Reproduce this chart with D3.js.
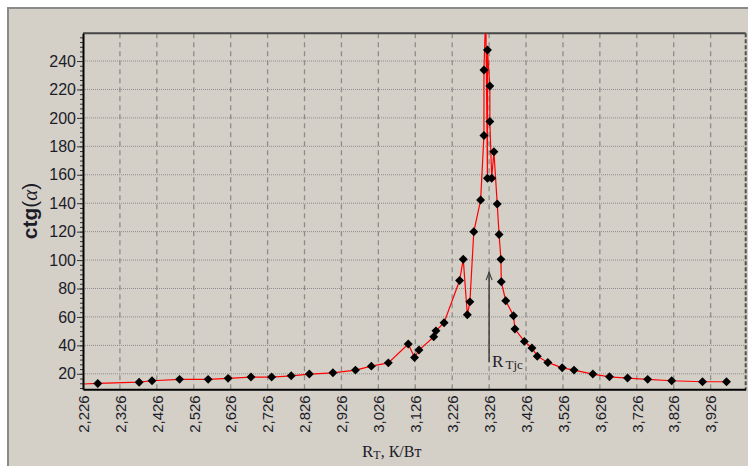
<!DOCTYPE html>
<html>
<head>
<meta charset="utf-8">
<script src="https://cdn.jsdelivr.net/npm/d3@7"></script>
<style>
body{margin:0;background:#fff;}
svg{display:block;}
</style>
</head>
<body>
<svg id="canvas"></svg>
<script>
// measured points, in drawing order (first and one peak point lie outside the plot and get clipped)
let rValues = [2.200, 2.266, 2.378, 2.413, 2.4875, 2.565, 2.619, 2.681, 2.737, 2.790, 2.839, 2.903, 2.964, 3.007, 3.053,
               3.107, 3.124, 3.136, 3.176, 3.182, 3.204, 3.246, 3.256, 3.267, 3.274, 3.2845, 3.303, 3.312, 3.312,
               3.317, 3.3215, 3.3215, 3.328, 3.328, 3.333, 3.339, 3.348, 3.353, 3.358, 3.359, 3.371, 3.392, 3.396,
               3.4215, 3.442, 3.4565, 3.485, 3.524, 3.556, 3.607, 3.652, 3.701, 3.7555, 3.8205, 3.904, 3.969]
let ctgValues = [12.6, 13.2, 14.1, 15.1, 16.1, 16.1, 16.8, 17.7, 17.7, 18.6, 19.8, 20.7, 22.6, 25.4, 27.7,
                 41.0, 31.5, 36.7, 46.0, 50.2, 55.9, 85.6, 100.6, 61.5, 70.6, 119.9, 142.2, 187.6, 233.7,
                 275, 157.5, 247.7, 222.4, 197.5, 157.5, 176.2, 139.4, 118.0, 100.5, 84.7, 71.4, 60.8, 51.5,
                 42.8, 38.2, 32.4, 28.0, 24.2, 22.6, 19.8, 17.9, 17.0, 16.1, 15.1, 14.4, 14.4]

let xTicks = [2.226, 2.326, 2.426, 2.526, 2.626, 2.726, 2.826, 2.926, 3.026,
              3.126, 3.226, 3.326, 3.426, 3.526, 3.626, 3.726, 3.826, 3.926]
let yTicks = [20, 40, 60, 80, 100, 120, 140, 160, 180, 200, 220, 240]

let xDomain = [2.226, 4.021]
let yDomain = [9.1, 259.5]

// R_Tjc arrow
let markX = 3.326
let markY = [28.2, 91.5]

let width = 748;
let height = 466;
let padLeft = 83, padTop = 33.3, padRight = 745.7, padBottom = 389.3;

let canvas = d3.select("#canvas")
canvas.attr("width", width)
canvas.attr("height", height)

let xScale = d3.scaleLinear().domain(xDomain).range([padLeft, padRight])
let yScale = d3.scaleLinear().domain(yDomain).range([padBottom, padTop])

let fmt = (d)=>d3.format(".3f")(d).replace(".", ",")

// panel
canvas.append("rect")
      .attr("x", 8).attr("y", 8)
      .attr("width", 760).attr("height", 480)
      .attr("fill", "#d4d0c8")
      .attr("stroke", "#8a8a8a")
      .attr("stroke-width", 2)

canvas.append("clipPath").attr("id", "clip")
      .append("rect")
      .attr("x", padLeft).attr("y", padTop)
      .attr("width", padRight - padLeft).attr("height", padBottom - padTop)

// grid
canvas.append("g")
      .selectAll("line")
      .data(yTicks)
      .enter()
      .append("line")
      .attr("x1", padLeft).attr("x2", padRight)
      .attr("y1", d=>yScale(d)).attr("y2", d=>yScale(d))
      .attr("stroke", "#8c8c8c")
      .attr("stroke-dasharray", "1,1")

canvas.append("g")
      .selectAll("line")
      .data(xTicks.slice(1))
      .enter()
      .append("line")
      .attr("x1", d=>xScale(d)).attr("x2", d=>xScale(d))
      .attr("y1", padTop).attr("y2", padBottom)
      .attr("stroke", "#8c8c8c")
      .attr("stroke-width", 1.3)
      .attr("stroke-dasharray", "5,4")

// frame top / right
canvas.append("line")
      .attr("x1", padLeft).attr("x2", padRight)
      .attr("y1", padTop).attr("y2", padTop)
      .attr("stroke", "#454545").attr("stroke-width", 2)
canvas.append("line")
      .attr("x1", padRight).attr("x2", padRight)
      .attr("y1", padTop).attr("y2", padBottom)
      .attr("stroke", "#505050").attr("stroke-width", 2)
      .attr("stroke-dasharray", "4,2")

// data
let points = rValues.map((r, i)=>({r: r, c: ctgValues[i]}))

let plot = canvas.append("g").attr("clip-path", "url(#clip)")

plot.append("path")
    .datum(points)
    .attr("fill", "none")
    .attr("stroke", "#ff0000")
    .attr("stroke-width", 1.2)
    .attr("d", d3.line().x(d=>xScale(d.r)).y(d=>yScale(d.c)))

plot.selectAll(".dot")
    .data(points)
    .enter()
    .append("path")
    .attr("class", "dot")
    .attr("d", d3.symbol(d3.symbolSquare, 40))
    .attr("transform", d=>"translate(" + xScale(d.r) + "," + yScale(d.c) + ") rotate(45)")
    .attr("fill", "#000")

// axes
let minorTicks = []
for (let v = 20 - 20 / 6 * 3; v < yDomain[1]; v += 20 / 6) {
    if (v > yDomain[0]) minorTicks.push(v)
}

let yMinor = d3.axisLeft(yScale).tickValues(minorTicks).tickSize(3).tickSizeOuter(0).tickFormat("")
let yAxis = d3.axisLeft(yScale).tickValues(yTicks).tickSize(6).tickSizeOuter(0).tickPadding(1)

canvas.append("g")
      .attr("transform", "translate(" + padLeft + ",0)")
      .call(yMinor)
      .call(g=>g.select(".domain").remove())
      .selectAll("line").attr("stroke", "#333")

let yg = canvas.append("g")
      .attr("id", "y-axis")
      .attr("transform", "translate(" + padLeft + ",0)")
      .call(yAxis)
yg.select(".domain").attr("stroke", "#000").attr("stroke-width", 2)
yg.selectAll("line").attr("stroke", "#333")
yg.selectAll("text")
  .style("font-family", "'Liberation Sans', Arial, sans-serif")
  .style("font-size", "16px")
  .attr("fill", "#1c1c28")

let xAxis = d3.axisBottom(xScale).tickValues(xTicks).tickSize(0).tickSizeOuter(0).tickFormat(fmt)
let xg = canvas.append("g")
      .attr("id", "x-axis")
      .attr("transform", "translate(0," + padBottom + ")")
      .call(xAxis)
xg.select(".domain").attr("stroke", "#000").attr("stroke-width", 2)
xg.selectAll("text")
  .attr("transform", "rotate(-90)")
  .attr("x", -6)
  .attr("y", 0)
  .attr("dy", "0.35em")
  .style("text-anchor", "end")
  .style("font-family", "'Liberation Sans', Arial, sans-serif")
  .style("font-size", "15px")
  .attr("fill", "#1c1c28")

// axis titles
let yTitle = canvas.append("text")
      .attr("transform", "translate(37,211) rotate(-90)")
      .attr("text-anchor", "middle")
      .attr("fill", "#1c1c28")
      .style("font-family", "'Liberation Sans', Arial, sans-serif")
      .style("font-size", "21px")
yTitle.append("tspan").attr("font-weight", "bold").text("ctg")
yTitle.append("tspan").text("(")
yTitle.append("tspan").style("font-family", "'Liberation Serif', serif").style("font-style", "italic").text("α")
yTitle.append("tspan").text(")")

let xTitle = canvas.append("text")
      .attr("x", 362).attr("y", 457)
      .attr("fill", "#1c1c28")
      .style("font-family", "'Liberation Serif', 'Times New Roman', serif")
      .style("font-size", "16px")
xTitle.append("tspan").style("font-size", "17px").text("R")
xTitle.append("tspan").style("font-size", "12px").attr("dy", 2).text("Т")
xTitle.append("tspan").attr("dy", -2).text(", К/Вт")

// R_Tjc marker
let ax = xScale(markX)
let ay0 = yScale(markY[0]), ay1 = yScale(markY[1])
canvas.append("line")
      .attr("x1", ax).attr("x2", ax)
      .attr("y1", ay0).attr("y2", ay1)
      .attr("stroke", "#404040").attr("stroke-width", 1.5)
canvas.append("path")
      .attr("d", "M" + (ax - 3) + "," + (ay1 + 8) + "L" + ax + "," + ay1 + "L" + (ax + 3) + "," + (ay1 + 8))
      .attr("fill", "none")
      .attr("stroke", "#404040").attr("stroke-width", 1.2)

let mark = canvas.append("text")
      .attr("x", ax + 3).attr("y", ay0 + 4.5)
      .attr("fill", "#1c1c28")
      .style("font-family", "'Liberation Serif', 'Times New Roman', serif")
      .style("font-size", "17px")
mark.append("tspan").text("R")
mark.append("tspan").attr("dx", 2).attr("dy", 2).style("font-size", "13px").text("Tjc")
</script>
</body>
</html>
